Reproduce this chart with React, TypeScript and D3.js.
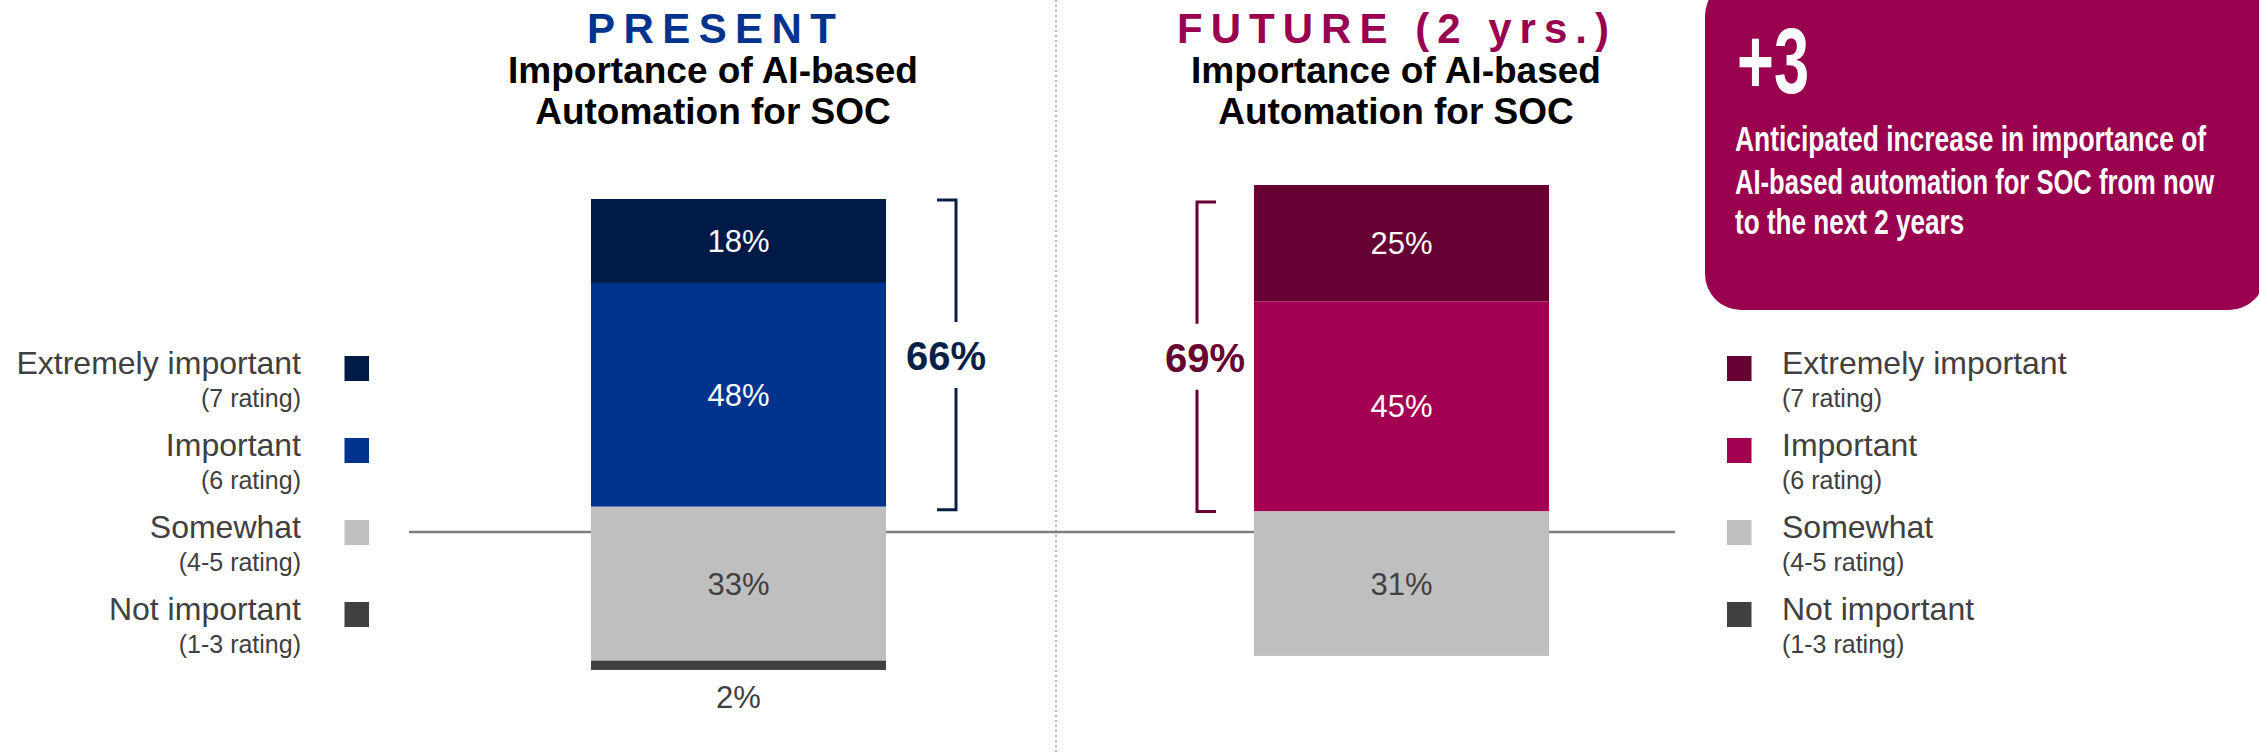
import React, { useLayoutEffect, useRef, useState } from "react";
import * as d3 from "d3";

// ---------- data ----------
const panels = ["PRESENT", "FUTURE (2 yrs.)"];
const subtitleLines = ["Importance of AI-based", "Automation for SOC"];
const categories = ["Extremely important", "Important", "Somewhat", "Not important"];
const ratings = ["(7 rating)", "(6 rating)", "(4-5 rating)", "(1-3 rating)"];
const presentValues = [18, 48, 33, 2];
const futureValues = [25, 45, 31, 0];
const topTwoTotals = [66, 69];
const changeLabel = "+3";
const calloutLines = [
  "Anticipated increase in importance of",
  "AI-based automation for SOC from now",
  "to the next 2 years",
];

// ---------- styles ----------
const FONT = "'Liberation Sans', Arial, Helvetica, sans-serif";
const presentColors = ["#001A47", "#00338D", "#BFBFBF", "#404040"];
const futureColors = ["#660033", "#A30052", "#BFBFBF", "#404040"];
const titleColors = ["#00338D", "#990050"];
const bracketColors = ["#0A1F45", "#660033"];
const labelColors = ["#FFFFFF", "#FFFFFF", "#404040", "#404040"];
const boxColor = "#99004E";
const textGray = "#404040";

const W = 2259;
const H = 755;

// condensed text: horizontally scaled to a target width
function FitText(props: {
  x: number;
  y: number;
  width: number;
  fontSize: number;
  fill: string;
  guess: number;
  children: string;
}) {
  const { x, y, width, fontSize, fill, guess, children } = props;
  const ref = useRef<SVGTextElement>(null);
  const [sx, setSx] = useState(guess);
  useLayoutEffect(() => {
    if (ref.current) {
      const w = ref.current.getComputedTextLength();
      if (w > 0) setSx(width / w);
    }
  }, [width, children, fontSize]);
  return (
    <text
      ref={ref}
      transform={`translate(${x},${y}) scale(${sx},1)`}
      x={0}
      y={0}
      fontSize={fontSize}
      fontWeight="bold"
      fill={fill}
    >
      {children}
    </text>
  );
}

export default function App() {
  const allValues = [presentValues, futureValues];
  const allColors = [presentColors, futureColors];

  const x = d3.scaleBand<string>().domain(panels).range([591, 1549]).paddingInner(0.555).paddingOuter(0);
  const h = d3.scaleLinear().domain([0, 100]).range([0, 466.3]);

  // layout per panel
  const barTop = [199, 185];
  const titleCenter = [711.5, 1393];
  const subtitleCenter = [713, 1396];
  const titleLength = [249, 432];
  const bracketX = [956, 1197];
  const hookDir = [-1, 1];
  const totalOffset = [10, 8];
  const bracketTopInset = [1, 17];
  const bracketBottomInset = [3, 0];

  const legendY = d3.scaleLinear().domain([0, 3]).range([368.5, 614.5]);

  return (
    <svg
      width={W}
      height={H}
      style={{ position: "absolute", left: 0, top: 0, display: "block" }}
      fontFamily={FONT}
    >
      <rect x={0} y={0} width={W} height={H} fill="#FFFFFF" />

      {/* divider */}
      <line x1={1056} x2={1056} y1={0} y2={H} stroke="#9A9A9A" strokeWidth={1.5} strokeDasharray="2 3" />

      {/* baseline */}
      <line x1={409} x2={1675} y1={532} y2={532} stroke="#7F7F7F" strokeWidth={2.5} />

      {panels.map((p, pi) => {
        const vals = allValues[pi];
        const cols = allColors[pi];
        const bx = x(p)!;
        const bw = x.bandwidth();
        const cx = bx + bw / 2;
        let cum = 0;
        const segs = vals.map((v, i) => {
          const y0 = barTop[pi] + h(cum);
          cum += v;
          const y1 = barTop[pi] + h(cum);
          return { v, i, y0, y1 };
        });
        const bTop = barTop[pi] + h(0) + bracketTopInset[pi];
        const bBot = barTop[pi] + h(vals[0] + vals[1]) + bracketBottomInset[pi];
        const bMid = (bTop + bBot) / 2;
        const bx0 = bracketX[pi];
        const hook = 19 * hookDir[pi];
        return (
          <g key={p}>
            <text
              x={titleCenter[pi]}
              y={43}
              textAnchor="middle"
              fontSize={42}
              fontWeight="bold"
              fill={titleColors[pi]}
              textLength={titleLength[pi]}
              lengthAdjust="spacing"
            >
              {p}
            </text>
            {subtitleLines.map((s, si) => (
              <text
                key={s}
                x={subtitleCenter[pi]}
                y={83 + si * 41}
                textAnchor="middle"
                fontSize={37}
                fontWeight="bold"
                fill="#000000"
              >
                {s}
              </text>
            ))}
            {segs.map((s) =>
              s.v > 0 ? (
                <rect key={s.i} x={bx} y={s.y0} width={bw} height={s.y1 - s.y0} fill={cols[s.i]} />
              ) : null
            )}
            {segs.map((s) => {
              if (s.v <= 0) return null;
              const small = s.y1 - s.y0 < 40;
              const ty = small ? s.y1 + 38 : (s.y0 + s.y1) / 2 + 11;
              return (
                <text
                  key={"l" + s.i}
                  x={cx}
                  y={ty}
                  textAnchor="middle"
                  fontSize={31}
                  fill={small ? textGray : labelColors[s.i]}
                >
                  {s.v}%
                </text>
              );
            })}
            {/* bracket */}
            <path
              d={`M${bx0 + hook},${bTop} H${bx0} V${bMid - 33}`}
              fill="none"
              stroke={bracketColors[pi]}
              strokeWidth={3}
            />
            <path
              d={`M${bx0},${bMid + 33} V${bBot} H${bx0 + hook}`}
              fill="none"
              stroke={bracketColors[pi]}
              strokeWidth={3}
            />
            <text
              x={bx0 + hookDir[pi] * totalOffset[pi]}
              y={bMid + 15}
              textAnchor="middle"
              fontSize={40}
              fontWeight="bold"
              fill={bracketColors[pi]}
            >
              {topTwoTotals[pi]}%
            </text>
          </g>
        );
      })}

      {/* left legend */}
      {categories.map((c, i) => {
        const cy = legendY(i);
        return (
          <g key={"ll" + c}>
            <rect x={344.5} y={cy - 12.5} width={24.5} height={25} fill={presentColors[i]} />
            <text x={301} y={cy + 5} textAnchor="end" fontSize={32} fill={textGray}>
              {c}
            </text>
            <text x={301} y={cy + 38.5} textAnchor="end" fontSize={25} fill={textGray}>
              {ratings[i]}
            </text>
          </g>
        );
      })}

      {/* right legend */}
      {categories.map((c, i) => {
        const cy = legendY(i);
        return (
          <g key={"rl" + c}>
            <rect x={1727} y={cy - 12.5} width={24.5} height={25} fill={futureColors[i]} />
            <text x={1782} y={cy + 5} textAnchor="start" fontSize={32} fill={textGray}>
              {c}
            </text>
            <text x={1782} y={cy + 38.5} textAnchor="start" fontSize={25} fill={textGray}>
              {ratings[i]}
            </text>
          </g>
        );
      })}

      {/* callout box */}
      <rect x={1705} y={-20} width={560} height={330} rx={36} ry={36} fill={boxColor} />
      <FitText x={1737} y={93} width={72} fontSize={92} fill="#FFFFFF" guess={0.69}>
        {changeLabel}
      </FitText>
      {calloutLines.map((l, i) => (
        <FitText
          key={l}
          x={1735}
          y={[151, 194, 234][i]}
          width={[471, 479, 229][i]}
          fontSize={36}
          fill="#FFFFFF"
          guess={0.75}
        >
          {l}
        </FitText>
      ))}
    </svg>
  );
}
